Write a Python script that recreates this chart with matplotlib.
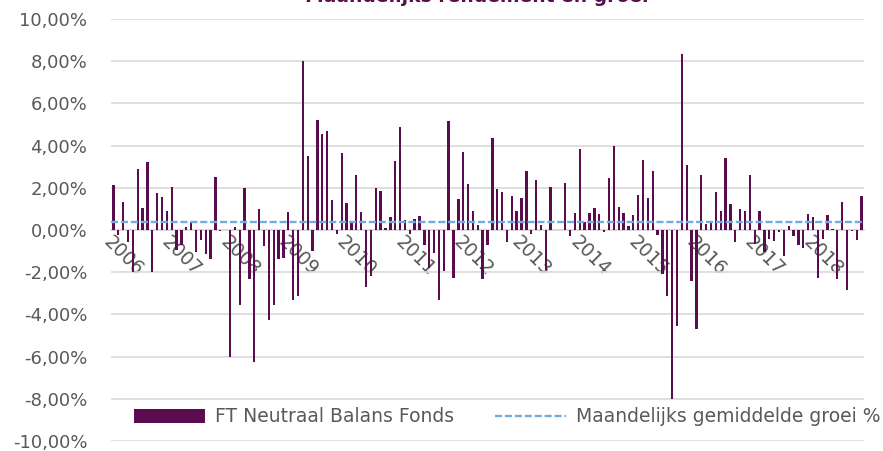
import numpy as np
import matplotlib.pyplot as plt
from matplotlib.ticker import FuncFormatter, MultipleLocator

# maandrendement in %, jan 2006 t/m nov 2018
rendement = [
    2.13, -0.24, 1.34, -0.55, -2.00, 2.88, 1.02, 3.21, -1.97, 1.73, 1.57, 0.91,
    2.02, -0.94, -0.71, 0.16, 0.36, -1.02, -0.47, -1.13, -1.39, 2.52, -0.05, 0.02,
    -6.02, 0.16, -3.54, 1.97, -2.30, -6.25, 0.99, -0.76, -4.28, -3.57, -1.39, -1.31,
    0.87, -3.34, -3.15, 8.03, 3.50, -0.99, 5.23, 4.54, 4.69, 1.42, -0.17, 3.67,
    1.26, 0.31, 2.60, 0.84, -2.70, -2.20, 2.00, 1.84, 0.08, 0.61, 3.27, 4.88,
    0.47, -0.20, 0.51, 0.64, -0.71, -1.81, -1.10, -3.34, -1.95, 5.16, -2.28, 1.45,
    3.68, 2.17, 0.91, 0.24, -2.30, -0.71, 4.36, 1.93, 1.79, -0.55, 1.63, 0.89,
    1.51, 2.81, -0.20, 2.35, 0.24, -1.89, 2.02, 0.02, 0.00, 2.22, -0.28, 0.82,
    3.82, 0.40, 0.79, 1.05, 0.74, -0.11, 2.48, 3.97, 1.10, 0.79, 0.20, 0.70,
    1.68, 3.30, 1.53, 2.78, -0.22, -2.10, -3.15, -8.00, -4.54, 8.35, 3.07, -2.44,
    -4.69, 2.60, 0.28, 0.35, 1.80, 0.89, 3.42, 1.21, -0.55, 0.98, 0.90, 2.60,
    -0.68, 0.91, -1.06, -0.41, -0.53, -0.11, -1.23, 0.19, -0.27, -0.69, -0.83, 0.74,
    0.62, -2.29, -0.45, 0.69, 0.03, -2.33, 1.34, -2.83, -0.03, -0.48, 1.61,
]
gemiddelde = 0.37
jaren = ['2006', '2007', '2008', '2009', '2010', '2011', '2012',
         '2013', '2014', '2015', '2016', '2017', '2018']

paars = '#5B0C4F'
blauw = '#70ACDF'
grijs = '#595959'
raster = '#D9D9D9'

plt.rcParams['font.family'] = ['DejaVu Sans']

fig = plt.figure(figsize=(8.83, 4.51), dpi=100)
ax = fig.add_axes([111 / 883, 10 / 451, 753 / 883, 422 / 451])

x = np.arange(len(rendement))
staven = ax.bar(x, rendement, width=0.48, color=paars, zorder=3)
lijn = ax.axhline(gemiddelde, color=blauw, lw=1.7, ls=(0, (3, 1.2)), zorder=4)

# as eerst op 0 zetten, anders gaan de labelinstellingen verloren
for s in ['top', 'left', 'right']:
    ax.spines[s].set_visible(False)
ax.spines['bottom'].set_position(('data', 0))
ax.spines['bottom'].set_color(raster)
ax.spines['bottom'].set_linewidth(1.2)

ax.set_xlim(-0.5, len(rendement) - 0.5)
ax.set_ylim(-10, 10)
ax.yaxis.set_major_locator(MultipleLocator(2))
ax.yaxis.set_major_formatter(FuncFormatter(lambda v, p: f'{v:.2f}%'.replace('.', ',')))
ax.grid(axis='y', color=raster, lw=1.2, zorder=0)
ax.tick_params(axis='y', length=0, pad=17, labelsize=13, labelcolor=grijs)

ax.set_xticks(np.arange(0, len(rendement), 12))
ax.tick_params(axis='x', length=0, pad=2, labelsize=13.5, labelcolor=grijs)
ax.set_xticklabels(jaren, rotation=-45, ha='left', va='top', rotation_mode='anchor')

fig.legend([staven, lijn], ['FT Neutraal Balans Fonds', 'Maandelijks gemiddelde groei %'],
           loc='center', bbox_to_anchor=(507 / 883, 1 - 417 / 451), ncol=2,
           frameon=False, fontsize=13.5, labelcolor=grijs, handlelength=3.8,
           handleheight=0.75, handletextpad=0.5, columnspacing=2.2)

# titel valt grotendeels buiten het beeld, zoals in het origineel
fig.text(305 / 883, 1 - 1.5 / 451, 'Maandelijks rendement en groei', color=paars,
         fontsize=13.5, fontweight='bold', ha='left', va='baseline')

fig.savefig('out.png', dpi=100)
